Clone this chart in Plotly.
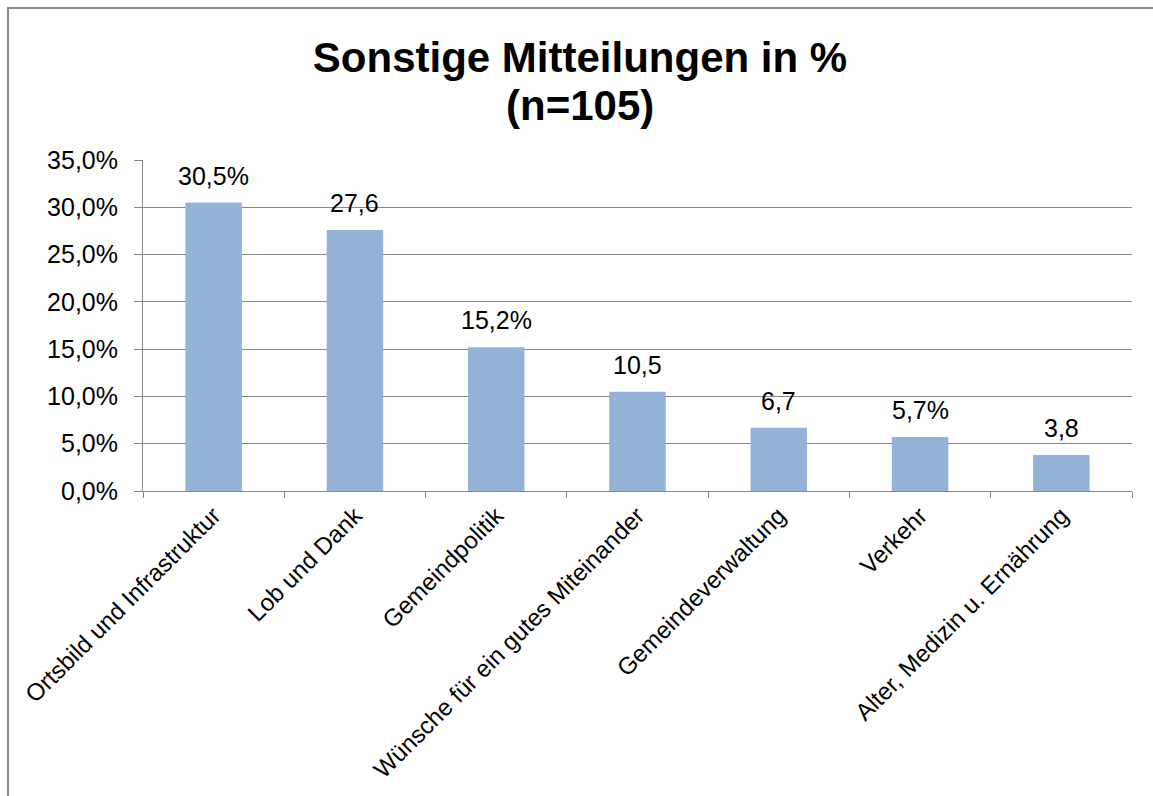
import plotly.graph_objects as go

categories = [
    "Ortsbild und Infrastruktur",
    "Lob und Dank",
    "Gemeindpolitik",
    "Wünsche für ein gutes Miteinander",
    "Gemeindeverwaltung",
    "Verkehr",
    "Alter, Medizin u. Ernährung",
]
values = [30.5, 27.6, 15.2, 10.5, 6.7, 5.7, 3.8]
value_labels = ["30,5%", "27,6", "15,2%", "10,5", "6,7", "5,7%", "3,8"]
y_ticks = [0, 5, 10, 15, 20, 25, 30, 35]
y_tick_labels = ["0,0%", "5,0%", "10,0%", "15,0%", "20,0%", "25,0%", "30,0%", "35,0%"]
title_line1 = "Sonstige Mitteilungen in %"
title_line2 = "(n=105)"

W, H = 1153, 796
L, R, T, B = 143, 21, 160, 305
FONT = "Arial, Liberation Sans, sans-serif"
GRID = "#868686"

pw = W - L - R
ph = H - T - B

fig = go.Figure()
fig.add_trace(go.Bar(
    x=categories, y=values,
    marker=dict(color="#95B3D7", line=dict(width=0)),
    hoverinfo="skip",
))

for c, v, t in zip(categories, values, value_labels):
    fig.add_annotation(x=c, y=v, text=t, showarrow=False, yanchor="bottom",
                       yshift=11, font=dict(family=FONT, size=25, color="black"))

# second title line
fig.add_annotation(x=(580 - L) / pw, y=(H - B - 105.5) / ph, xref="paper", yref="paper",
                   text=f"<b>{title_line2}</b>", showarrow=False,
                   xanchor="center", yanchor="middle",
                   font=dict(family=FONT, size=42, color="black"))

# chart frame
fig.add_shape(type="rect", xref="paper", yref="paper",
              x0=(8 - L) / pw, x1=(W + 20 - L) / pw,
              y0=(H - B - (H + 20)) / ph, y1=(H - B - 8) / ph,
              line=dict(color="#8a8a8a", width=2), layer="below")

fig.update_layout(
    width=W, height=H,
    margin=dict(l=L, r=R, t=T, b=B, autoexpand=False),
    paper_bgcolor="white", plot_bgcolor="white",
    showlegend=False, bargap=0.6,
    title=dict(text=f"<b>{title_line1}</b>",
               x=580 / W, xanchor="center", y=1 - 57.5 / H, yanchor="middle",
               yref="container",
               font=dict(family=FONT, size=42, color="black")),
    font=dict(family=FONT, color="black"),
)
fig.update_xaxes(
    showgrid=False, showline=True, linecolor=GRID, linewidth=1,
    ticks="outside", tickson="boundaries", ticklen=6, tickcolor=GRID,
    tickangle=-45, tickfont=dict(family=FONT, size=24, color="black"),
)
fig.update_yaxes(
    range=[0, 35], tickvals=y_ticks, ticktext=y_tick_labels,
    showgrid=True, gridcolor=GRID, gridwidth=1,
    showline=True, linecolor=GRID, linewidth=1,
    ticks="outside", ticklen=8, tickcolor=GRID,
    ticklabelstandoff=11, zeroline=False,
    tickfont=dict(family=FONT, size=25, color="black"),
)

fig.write_html("out.html", config={"displayModeBar": False},
               post_script="document.body.style.margin='0';")
